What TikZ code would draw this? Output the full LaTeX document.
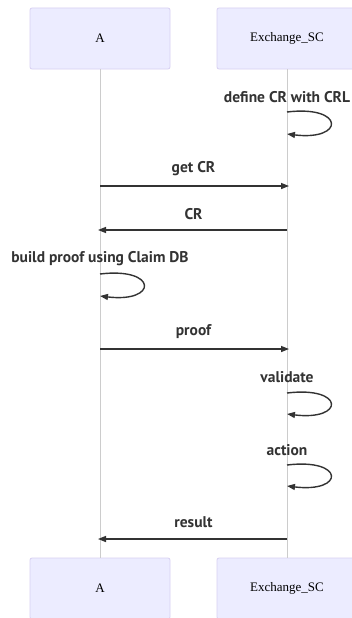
\documentclass[tikz,border=0pt]{standalone}
\usepackage{fontspec}
\setmainfont{Liberation Serif}
\setsansfont{PT Sans}
\usetikzlibrary{arrows.meta}

\definecolor{actorfill}{HTML}{ECECFF}
\definecolor{actorline}{HTML}{D8D0F2}

\tikzset{
  actor/.style={draw=actorline, fill=actorfill, line width=0.8pt, rounded corners=2pt,
    minimum width=140pt, minimum height=61pt, font=\fontsize{13}{15}\selectfont},
  lifeline/.style={draw=black!20, line width=1pt},
  msg/.style={draw=black!80, line width=1.4pt, -{Triangle[length=8pt,width=6pt]}},
  msglabel/.style={font=\sffamily\bfseries\fontsize{15.5}{18}\selectfont, text=black!80, inner sep=0pt}
}

\begin{document}
\begin{tikzpicture}[x=1pt,y=-1pt]
\clip (0,0) rectangle (352,618);
\fill[white] (0,0) rectangle (352,618);

\node[actor] (atop) at (100,38.5) {A};
\node[actor] (etop) at (287,38.5) {Exchange\_SC};
\node[actor] (abot) at (100,588.5) {A};
\node[actor] (ebot) at (287,588.5) {Exchange\_SC};

\draw[lifeline] (atop.south) -- (abot.north);
\draw[lifeline] (etop.south) -- (ebot.north);

% define CR
\node[msglabel] (l1) at (287,97) {define CR with CRL};
\coordinate (s1) at (287,112);
\coordinate (e1) at (287,134);
\draw[msg] (s1) .. controls (345,105) and (345,141) .. (e1);

% get CR
\node[msglabel] (l2) at (193.5,169) {get CR};
\coordinate (a2) at (100,186);
\coordinate (b2) at (289,186);
\draw[msg] (a2) -- (b2);

% CR
\node[msglabel] (l3) at (193.5,214) {CR};
\coordinate (a3) at (287,230);
\coordinate (b3) at (98,230);
\draw[msg] (a3) -- (b3);

% build proof
\node[msglabel] (l4) at (100,259) {build proof using Claim DB};
\coordinate (s4) at (100,274);
\coordinate (e4) at (100,296);
\draw[msg] (s4) .. controls (158,267) and (158,303) .. (e4);

% proof
\node[msglabel] (l5) at (193.5,332) {proof};
\coordinate (a5) at (100,349);
\coordinate (b5) at (289,349);
\draw[msg] (a5) -- (b5);

% validate
\node[msglabel] (l6) at (287,377) {validate};
\coordinate (s6) at (287,393);
\coordinate (e6) at (287,414);
\draw[msg] (s6) .. controls (345,386) and (345,421) .. (e6);

% action
\node[msglabel] (l7) at (287,450) {action};
\coordinate (s7) at (287,465);
\coordinate (e7) at (287,486);
\draw[msg] (s7) .. controls (345,458) and (345,493) .. (e7);

% result
\node[msglabel] (l8) at (193.5,522) {result};
\coordinate (a8) at (287,539);
\coordinate (b8) at (98,539);
\draw[msg] (a8) -- (b8);
\end{tikzpicture}
\end{document}
